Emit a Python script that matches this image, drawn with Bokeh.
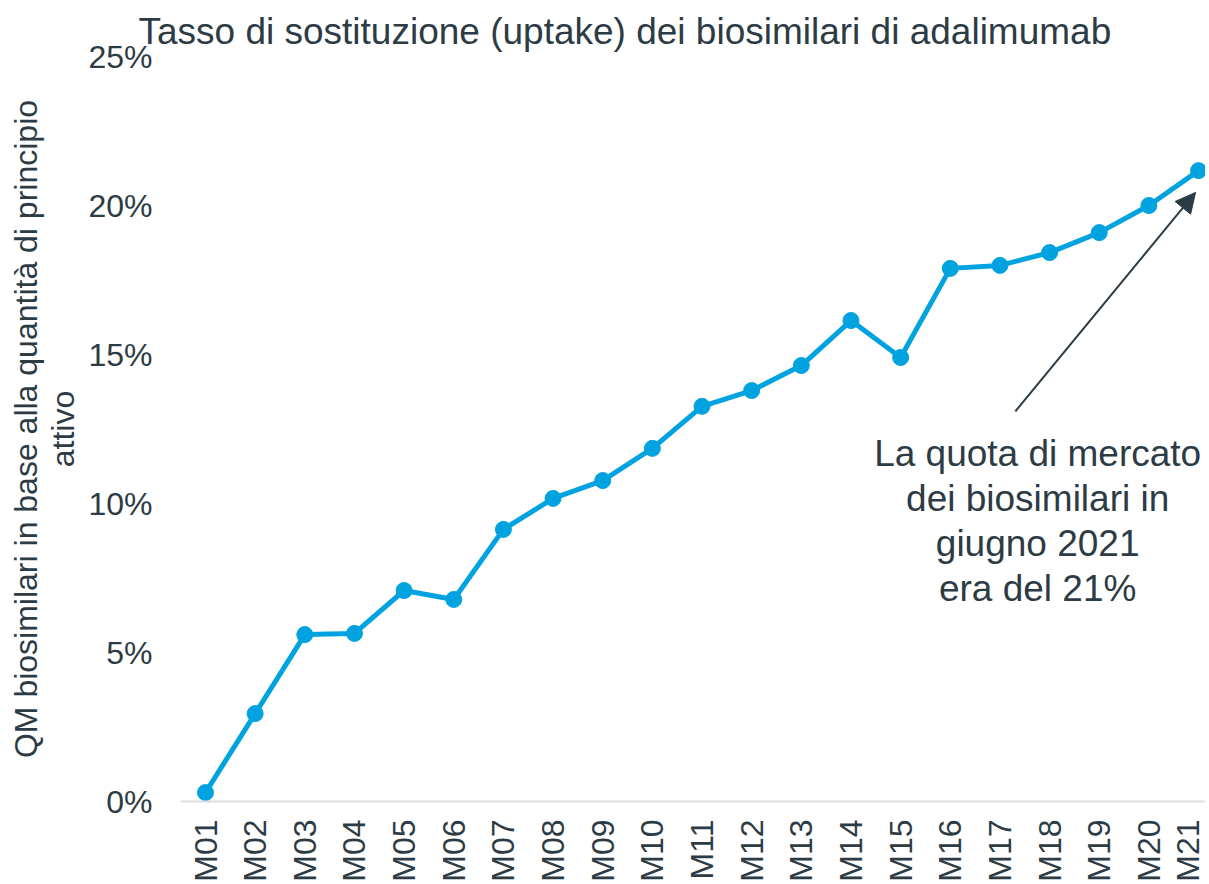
import math
from bokeh.plotting import figure
from bokeh.models import ColumnDataSource, FixedTicker, Range1d, Arrow, NormalHead, Label
from bokeh.embed import file_html
from bokeh.resources import INLINE

months = ["M01", "M02", "M03", "M04", "M05", "M06", "M07", "M08", "M09", "M10", "M11",
          "M12", "M13", "M14", "M15", "M16", "M17", "M18", "M19", "M20", "M21"]
uptake = [0.30, 2.95, 5.60, 5.64, 7.08, 6.78, 9.13, 10.17, 10.77, 11.85, 13.26,
          13.79, 14.63, 16.14, 14.90, 17.89, 17.99, 18.42, 19.09, 20.00, 21.17]
y_ticks = [0, 5, 10, 15, 20, 25]
y_tick_labels = ["0%", "5%", "10%", "15%", "20%", "25%"]

title_text = "Tasso di sostituzione (uptake) dei biosimilari di adalimumab"
y_label = "QM biosimilari in base alla quantità di principio\nattivo"
note_text = "La quota di mercato\ndei biosimilari in\ngiugno 2021\nera del 21%"
arrow_start = (16.31, 13.09)
arrow_end = (19.94, 20.44)
note_pos = (16.76, 12.38)

FONT = "Liberation Sans"
TXT = "#2d3b45"
BLUE = "#00a3e0"

idx = list(range(len(months)))
src = ColumnDataSource(dict(x=idx, y=uptake))

p = figure(width=1205, height=884, output_backend="svg", toolbar_location=None,
           x_range=Range1d(-0.5035, 20.14), y_range=Range1d(0, 25),
           min_border_left=180, min_border_right=0, min_border_top=56, min_border_bottom=0)
p.outline_line_color = None
p.xgrid.grid_line_color = None
p.ygrid.grid_line_color = None

p.title.text = title_text
p.title.text_font = FONT
p.title.text_font_size = "37px"
p.title.text_font_style = "normal"
p.title.text_color = TXT
p.title.align = "left"
p.title.offset = -42
p.title.standoff = 10

p.line("x", "y", source=src, line_color=BLUE, line_width=5)
p.scatter("x", "y", source=src, size=16, fill_color=BLUE, line_color=BLUE)

# x axis
xa = p.xaxis[0]
xa.ticker = FixedTicker(ticks=idx)
xa.major_label_overrides = {i: m for i, m in zip(idx, months)}
xa.major_label_orientation = math.pi / 2
xa.major_label_text_font = FONT
xa.major_label_text_font_size = "32px"
xa.major_label_text_color = TXT
xa.major_label_standoff = 12
xa.major_tick_line_color = None
xa.minor_tick_line_color = None
xa.axis_line_color = "#d9dde1"
xa.axis_line_width = 2

# y axis
ya = p.yaxis[0]
ya.ticker = FixedTicker(ticks=y_ticks)
ya.major_label_overrides = {t: l for t, l in zip(y_ticks, y_tick_labels)}
ya.major_label_text_font = FONT
ya.major_label_text_font_size = "32px"
ya.major_label_text_color = TXT
ya.major_label_standoff = 22
ya.major_tick_line_color = None
ya.minor_tick_line_color = None
ya.axis_line_color = None
ya.axis_label = y_label
ya.axis_label_text_font = FONT
ya.axis_label_text_font_size = "32px"
ya.axis_label_text_font_style = "normal"
ya.axis_label_text_color = TXT
ya.axis_label_text_line_height = 1.05
ya.axis_label_standoff = 4

p.add_layout(Arrow(end=NormalHead(size=20, fill_color=TXT, line_color=TXT),
                   x_start=arrow_start[0], y_start=arrow_start[1],
                   x_end=arrow_end[0], y_end=arrow_end[1],
                   line_color=TXT, line_width=2))

p.add_layout(Label(x=note_pos[0], y=note_pos[1], text=note_text,
                   text_font=FONT, text_font_size="37px", text_color=TXT,
                   text_align="center", text_baseline="top", text_line_height=1.1))

open("out.html", "w").write(file_html(p, INLINE))
